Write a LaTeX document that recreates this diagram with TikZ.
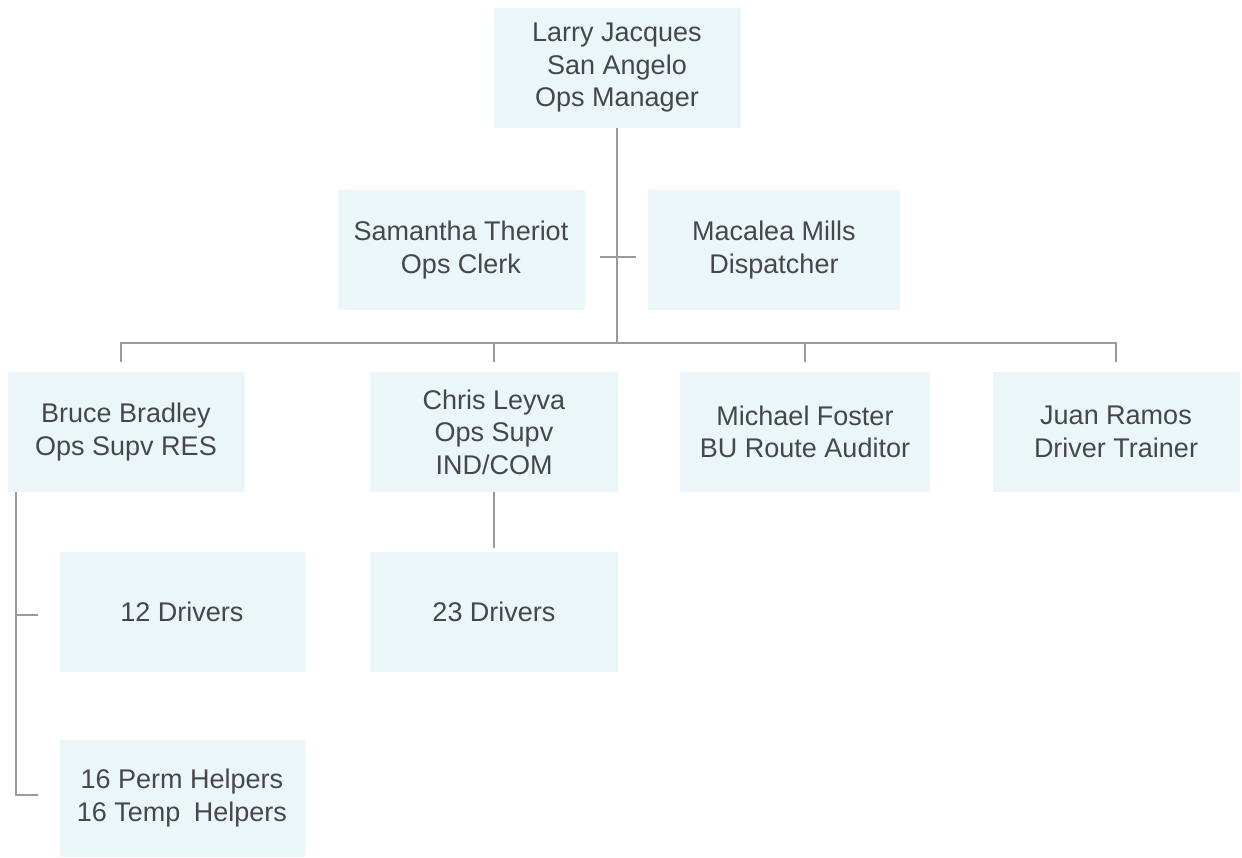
\documentclass[tikz,border=0pt]{standalone}
\usepackage{fontspec}
\setmainfont{Liberation Sans}
\definecolor{boxfill}{HTML}{EAF6F8}
\definecolor{linecol}{HTML}{9A9A9A}
\definecolor{txtcol}{HTML}{474747}
\begin{document}
\begin{tikzpicture}[x=1pt,y=-1pt,
  box/.style={fill=boxfill, draw=none, minimum width=247pt, minimum height=120pt,
    align=center, text=txtcol, font=\fontsize{27}{32.5}\selectfont, inner sep=0pt},
  conn/.style={draw=linecol, line width=2pt}]
\useasboundingbox[fill=white] (0,0) rectangle (1242,857);
% boxes
\node[box] (top) at (617,68) {Larry Jacques\\San Angelo\\Ops Manager};
\node[box] (sam) at (461,250) {Samantha Theriot\\Ops Clerk};
\node[box, minimum width=252pt] (mac) at (774,250) {Macalea Mills\\Dispatcher};
\node[box, minimum width=237pt] (bruce) at (126,432) {Bruce Bradley\\Ops Supv RES};
\node[box, minimum width=248pt] (chris) at (494,432) {Chris Leyva\\Ops Supv\\IND/COM};
\node[box, minimum width=250pt] (mike) at (805,432) {Michael Foster\\BU Route Auditor};
\node[box, minimum width=247pt] (juan) at (1116,432) {Juan Ramos\\Driver Trainer};
\node[box, minimum width=245pt] (d12) at (182,612) {12 Drivers};
\node[box, minimum width=248pt] (d23) at (494,612) {23 Drivers};
\node[box, minimum width=245pt, minimum height=117pt] (help) at (182,798) {16 Perm Helpers\\16 Temp\enspace Helpers};
% connectors
\coordinate (bus) at (617,343);
\coordinate (a1) at (600,257);
\coordinate (a2) at (636,257);
\draw[conn] (top.south) -- (bus);
\draw[conn] (a1) -- (a2);
\draw[conn] ([xshift=-5pt,yshift=10pt]bruce.north) |- (bus) -| ([yshift=10pt]juan.north);
\draw[conn] ([yshift=10pt]chris.north) -- (chris.north |- bus);
\draw[conn] ([yshift=10pt]mike.north) -- (mike.north |- bus);
\draw[conn] (chris.south) -- ([yshift=4pt]d23.north);
\coordinate (bl) at (16,492);
\coordinate (t1) at (38,615);
\coordinate (t2) at (38,795);
\draw[conn] (bl) |- (t2);
\draw[conn] (bl |- t1) -- (t1);
\end{tikzpicture}
\end{document}
